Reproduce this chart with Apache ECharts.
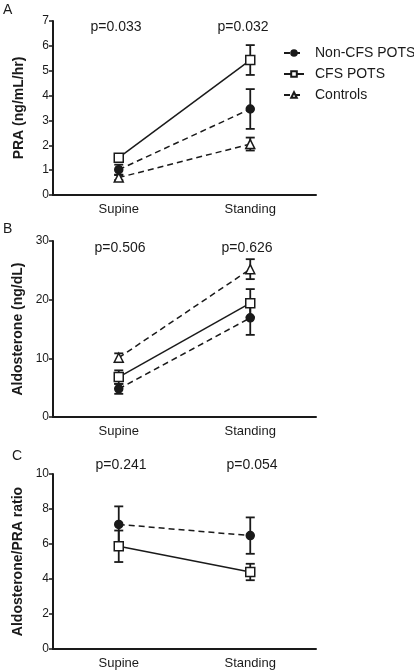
<!DOCTYPE html>
<html><head><meta charset="utf-8">
<script src="https://cdn.jsdelivr.net/npm/echarts@6/dist/echarts.min.js"></script>
<style>html,body{margin:0;padding:0;background:#fff}#c{width:414px;height:670px}</style>
</head><body><div id="c"></div>
<script>
const categories = ['Supine', 'Standing'];
const seriesNames = ['Non-CFS POTS', 'CFS POTS', 'Controls'];
const panelLetters = ['A', 'B', 'C'];
const yNames = ['PRA (ng/mL/hr)', 'Aldosterone (ng/dL)', 'Aldosterone/PRA ratio'];
const yMax = [7, 30, 10];
const yInterval = [1, 10, 2];
const pValuesA = ['p=0.033', 'p=0.032'];
const pValuesB = ['p=0.506', 'p=0.626'];
const pValuesC = ['p=0.241', 'p=0.054'];

// Panel A: PRA
const nonCfsA = [1.02, 3.46];
const nonCfsAErr = [0.2, 0.8];
const cfsA = [1.5, 5.43];
const cfsAErr = [0.15, 0.6];
const ctrlA = [0.7, 2.05];
const ctrlAErr = [0.1, 0.26];
// Panel B: Aldosterone
const nonCfsB = [4.8, 16.9];
const nonCfsBErr = [0.85, 2.9];
const cfsB = [6.8, 19.4];
const cfsBErr = [1.15, 2.4];
const ctrlB = [10.1, 25.2];
const ctrlBErr = [0.75, 1.7];
// Panel C: ratio
const nonCfsC = [7.12, 6.48];
const nonCfsCErr = [1.03, 1.04];
const cfsC = [5.87, 4.4];
const cfsCErr = [0.9, 0.47];

const FONT = "'Liberation Sans', Arial, sans-serif";
const INK = '#1a1a1a';
const chart = echarts.init(document.getElementById('c'));

const grids = [
  {left: 53, top: 21, width: 263, height: 174},
  {left: 53, top: 241, width: 263, height: 176},
  {left: 53, top: 474, width: 263, height: 176}
];

const xAxes = grids.map((g, i) => ({
  type: 'category', gridIndex: i, data: categories, boundaryGap: true,
  axisLine: {lineStyle: {color: INK, width: 2}},
  axisTick: {alignWithLabel: true, length: 5, lineStyle: {color: INK, width: 1.5}},
  axisLabel: {color: INK, fontSize: 13, fontFamily: FONT, margin: 8},
  splitLine: {show: false}
}));
const yAxes = grids.map((g, i) => ({
  type: 'value', gridIndex: i, min: 0, max: yMax[i], interval: yInterval[i],
  name: yNames[i], nameLocation: 'middle', nameGap: 27,
  nameTextStyle: {color: INK, fontSize: 14, fontWeight: 'bold', fontFamily: FONT},
  axisLine: {show: true, lineStyle: {color: INK, width: 2}},
  axisTick: {show: true, length: 4, lineStyle: {color: INK, width: 1.5}},
  axisLabel: {color: INK, fontSize: 12, fontFamily: FONT, margin: 4},
  splitLine: {show: false}
}));

const styles = {
  'Non-CFS POTS': {symbol: 'circle', symbolSize: 8, fill: INK, dash: [6, 4]},
  'CFS POTS': {symbol: 'rect', symbolSize: 9, fill: '#fff', dash: 'solid'},
  'Controls': {symbol: 'triangle', symbolSize: 9, fill: '#fff', dash: [6, 4]}
};

function lineSeries(name, idx, vals) {
  const s = styles[name];
  return {
    type: 'line', name: name, xAxisIndex: idx, yAxisIndex: idx, data: vals,
    symbol: s.symbol, symbolSize: s.symbolSize, z: 5, color: INK,
    lineStyle: {color: INK, width: 1.5, type: s.dash},
    itemStyle: {color: s.fill, borderColor: INK, borderWidth: 1.5},
    emphasis: {disabled: true}, animation: false
  };
}
function errSeries(name, idx, vals, errs) {
  return {
    type: 'custom', name: name + ' SEM', xAxisIndex: idx, yAxisIndex: idx, z: 3,
    data: vals.map((v, k) => [k, v - errs[k], v + errs[k]]),
    renderItem: function (params, api) {
      const lo = api.coord([api.value(0), api.value(1)]);
      const hi = api.coord([api.value(0), api.value(2)]);
      const w = 4.5;
      const st = {stroke: INK, lineWidth: 1.8};
      return {type: 'group', children: [
        {type: 'line', shape: {x1: lo[0], y1: lo[1], x2: hi[0], y2: hi[1]}, style: st},
        {type: 'line', shape: {x1: lo[0] - w, y1: lo[1], x2: lo[0] + w, y2: lo[1]}, style: st},
        {type: 'line', shape: {x1: hi[0] - w, y1: hi[1], x2: hi[0] + w, y2: hi[1]}, style: st}
      ]};
    },
    animation: false, silent: true
  };
}

const panels = [
  [[nonCfsA, nonCfsAErr], [cfsA, cfsAErr], [ctrlA, ctrlAErr]],
  [[nonCfsB, nonCfsBErr], [cfsB, cfsBErr], [ctrlB, ctrlBErr]],
  [[nonCfsC, nonCfsCErr], [cfsC, cfsCErr]]
];
const series = [];
panels.forEach((p, i) => {
  p.forEach((d, j) => {
    series.push(errSeries(seriesNames[j], i, d[0], d[1]));
    series.push(lineSeries(seriesNames[j], i, d[0]));
  });
});

const pTexts = [pValuesA, pValuesB, pValuesC];
const pY = [27, 248, 465];
const pX = [[116, 243], [120, 247], [121, 252]];
const graphic = [];
pTexts.forEach((pv, i) => {
  pv.forEach((t, k) => {
    graphic.push({type: 'text', x: pX[i][k], y: pY[i],
      style: {text: t, fontSize: 14, fontFamily: FONT, fill: INK, align: 'center', verticalAlign: 'middle'}});
  });
});
const letterPos = [[3, 3], [3, 222], [12, 449]];
panelLetters.forEach((l, i) => {
  graphic.push({type: 'text', x: letterPos[i][0], y: letterPos[i][1],
    style: {text: l, fontSize: 14, fontFamily: FONT, fill: INK}});
});

chart.setOption({
  backgroundColor: '#fff',
  animation: false,
  grid: grids,
  xAxis: xAxes,
  yAxis: yAxes,
  legend: {
    data: seriesNames, orient: 'vertical', left: 278, top: 41, itemGap: 7,
    padding: 5, itemWidth: 20, itemHeight: 7, selectedMode: false,
    textStyle: {color: INK, fontSize: 14, fontFamily: FONT, padding: [0, 0, 0, 6]}
  },
  graphic: graphic,
  series: series
});
</script></body></html>
